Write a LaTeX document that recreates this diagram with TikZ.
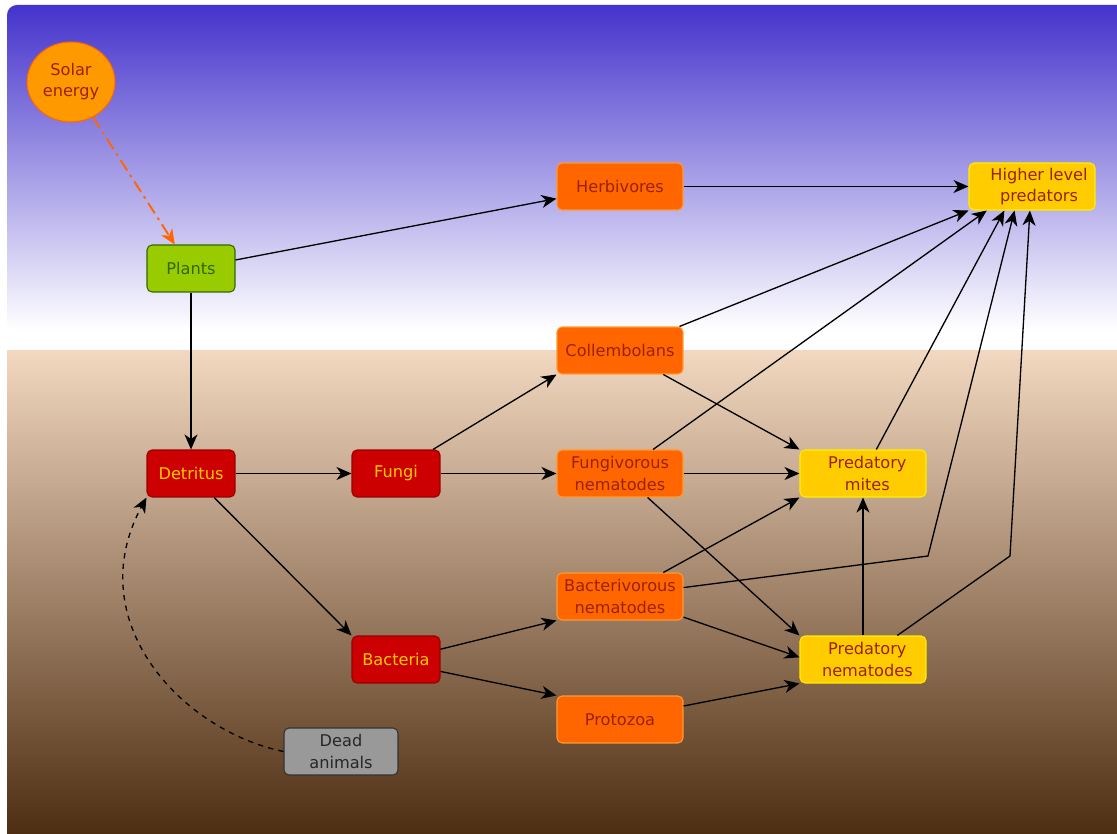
\documentclass[tikz,border=0pt]{standalone}
\usepackage{fontspec}
\setmainfont{DejaVu Sans}
\usetikzlibrary{arrows.meta,shapes.geometric}
\definecolor{skytop}{RGB}{68,51,204}
\definecolor{soiltop}{RGB}{242,216,192}
\definecolor{soilbot}{RGB}{78,46,18}
\definecolor{txtbrown}{RGB}{153,34,0}
\definecolor{boxorange}{RGB}{255,102,0}
\definecolor{orangeline}{RGB}{255,153,51}
\definecolor{boxyellow}{RGB}{255,204,0}
\definecolor{yellowline}{RGB}{255,238,0}
\definecolor{boxred}{RGB}{204,0,0}
\definecolor{redline}{RGB}{153,0,0}
\definecolor{redtext}{RGB}{255,204,0}
\definecolor{plantgreen}{RGB}{153,204,0}
\definecolor{darkgreen}{RGB}{51,102,0}
\definecolor{sunfill}{RGB}{255,153,0}
\definecolor{sunline}{RGB}{255,102,0}
\tikzset{
  box/.style={draw,rounded corners=0.1cm,minimum width=2.52cm,minimum height=0.94cm,
    align=center,inner sep=1pt,line width=0.6pt,font=\fontsize{9.2}{12}\selectfont},
  smallbox/.style={box,minimum width=1.76cm},
  orng/.style={box,fill=boxorange,draw=orangeline,text=txtbrown},
  ylw/.style={box,fill=boxyellow,draw=yellowline,text=txtbrown},
  rd/.style={smallbox,fill=boxred,draw=redline,text=redtext},
  link/.style={-{Stealth[length=0.3cm,width=0.26cm,inset=0.09cm]},line width=0.75pt}
}

\begin{document}
\begin{tikzpicture}[x=0.02cm,y=-0.02cm]
  \useasboundingbox (0,0) rectangle (1117,834);
  % sky and soil
  \fill[white] (7,5) rectangle (1117,360);
  \shade[top color=skytop,bottom color=white,rounded corners=0.2cm] (7,5) rectangle (1140,330);
  \shade[top color=soiltop,bottom color=soilbot] (7,351) rectangle (1117,834);

  \coordinate (bendb) at (928,556);
  \coordinate (bendp) at (1010,556);

  \node[ellipse,minimum width=1.76cm,minimum height=1.6cm,inner sep=0pt,fill=sunfill,draw=sunline,
    line width=0.6pt,text=txtbrown,align=center,font=\fontsize{9.2}{12}\selectfont] (sun) at (71,82) {Solar\\energy};
  \node[smallbox,fill=plantgreen,draw=darkgreen,text=darkgreen] (plants) at (191,268.5) {Plants};
  \node[orng] (herb) at (620,186.5) {Herbivores};
  \node[ylw] (hlp) at (1032,186.5) {\hspace{8pt}Higher level\\\hspace{8pt}predators};
  \node[orng] (coll) at (620,350.5) {Collembolans};
  \node[rd] (det) at (191,473.5) {Detritus};
  \node[rd] (fungi) at (396,473.5) {Fungi};
  \node[orng] (fnem) at (620,473.5) {Fungivorous\\nematodes};
  \node[ylw] (pmit) at (863,473.5) {\hspace{5pt}Predatory\\\hspace{5pt}mites};
  \node[orng] (bnem) at (620,596.5) {Bacterivorous\\nematodes};
  \node[rd] (bact) at (396,659.5) {Bacteria};
  \node[ylw] (pnem) at (863,659.5) {\hspace{5pt}Predatory\\\hspace{5pt}nematodes};
  \node[orng] (proto) at (620,719.5) {Protozoa};
  \node[box,minimum width=2.28cm,fill=black!40,draw=black!80,text=black!85] (dead) at (341,751.5) {Dead\\animals};

  \draw[link,draw=sunline,line width=1.1pt,dash pattern=on 7pt off 3pt on 1.5pt off 3pt] (sun.-58) -- (plants.124);
  \draw[link] (plants) -- (herb);
  \draw[link] (plants) -- (det);
  \draw[link] (herb) -- (hlp);
  \draw[link] (det) -- (fungi);
  \draw[link] (det.-46) -- (bact.north west);
  \draw[link] (fungi.33) -- (coll.south west);
  \draw[link] (fungi) -- (fnem);
  \draw[link] (bact.13) -- (bnem.south west);
  \draw[link] (bact.-15) -- (proto.north west);
  \draw[link] (coll.22) -- (hlp.south west);
  \draw[link] (coll.-29) -- (pmit.north west);
  \draw[link] (fnem.36) -- (hlp.208);
  \draw[link] (fnem) -- (pmit);
  \draw[link] (fnem.-41) -- (pnem.north west);
  \draw[link] (bnem.29) -- (pmit.south west);
  \draw[link] (bnem.-18) -- (pnem.178);
  \draw[link] (bnem.8) -- (bendb) -- (hlp.234);
  \draw[link] (proto.12) -- (pnem.south west);
  \draw[link] (pnem) -- (pmit);
  \draw[link] (pnem.35) -- (bendp) -- (hlp.265);
  \draw[link] (pmit.61) -- (hlp.221);
  \draw[link,dashed] (dead.west) .. controls (180,730) and (80,620) .. (det.south west);
\end{tikzpicture}
\end{document}
